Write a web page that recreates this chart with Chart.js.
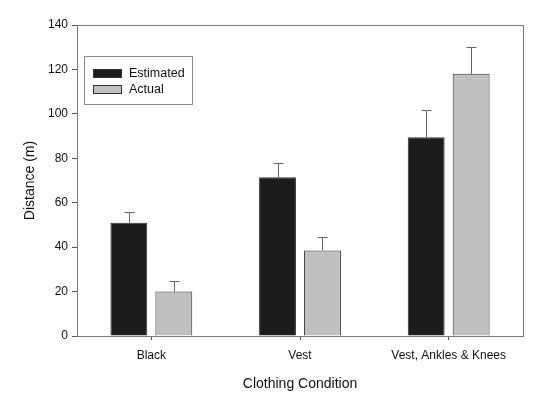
<!DOCTYPE html>
<html>
<head>
<meta charset="utf-8">
<script src="https://cdn.jsdelivr.net/npm/chart.js@4"></script>
<style>
  body { margin: 0; background: #fff; }
  #wrap { width: 540px; height: 397px; }
</style>
</head>
<body>
<div id="wrap"><canvas id="chart" width="540" height="397"></canvas></div>
<script>
const categories = ["Black", "Vest", "Vest, Ankles & Knees"];
const estimated = [51, 71.5, 89.5];
const estimatedErr = [4.8, 6.3, 12.3];
const actual = [20, 38.5, 118];
const actualErr = [4.9, 6.2, 12.3];
const yTicks = [0, 20, 40, 60, 80, 100, 120, 140];

const errors = [estimatedErr, actualErr];
const FONT = "'Liberation Sans', Arial, sans-serif";

// frame around plot area
const framePlugin = {
  id: "frame",
  afterDraw(chart) {
    const { ctx, chartArea: a } = chart;
    ctx.save();
    ctx.strokeStyle = "#7a7a7a";
    ctx.lineWidth = 1;
    ctx.strokeRect(a.left + 0.5, a.top + 0.5, a.right - a.left, a.bottom - a.top);
    ctx.restore();
  }
};

// upper error bars
const errorBarPlugin = {
  id: "errorBars",
  afterDatasetsDraw(chart) {
    const { ctx } = chart;
    const y = chart.scales.y;
    ctx.save();
    ctx.strokeStyle = "#666";
    ctx.lineWidth = 1;
    chart.data.datasets.forEach((ds, i) => {
      chart.getDatasetMeta(i).data.forEach((bar, j) => {
        const top = y.getPixelForValue(ds.data[j] + errors[i][j]);
        const x = Math.round(bar.x) + 0.5;
        ctx.beginPath();
        ctx.moveTo(x, bar.y);
        ctx.lineTo(x, Math.round(top) + 0.5);
        ctx.moveTo(x - 5, Math.round(top) + 0.5);
        ctx.lineTo(x + 5, Math.round(top) + 0.5);
        ctx.stroke();
      });
    });
    ctx.restore();
  }
};

// legend box inside the plot
const legendBoxPlugin = {
  id: "legendBox",
  afterDraw(chart) {
    const { ctx, chartArea: a } = chart;
    const x0 = a.left + 7, y0 = a.top + 31;
    ctx.save();
    ctx.strokeStyle = "#888";
    ctx.lineWidth = 1;
    ctx.strokeRect(x0 + 0.5, y0 + 0.5, 108, 48);
    ctx.font = "12.5px " + FONT;
    ctx.textBaseline = "middle";
    chart.data.datasets.forEach((ds, i) => {
      const yy = y0 + 17 + i * 16;
      ctx.fillStyle = ds.backgroundColor;
      ctx.strokeStyle = "#333";
      ctx.fillRect(x0 + 9, yy - 4, 29, 9);
      ctx.strokeRect(x0 + 9.5, yy - 3.5, 28, 8);
      ctx.fillStyle = "#111";
      ctx.fillText(ds.label, x0 + 45, yy + 1);
    });
    ctx.restore();
  }
};

new Chart(document.getElementById("chart"), {
  type: "bar",
  data: {
    labels: categories,
    datasets: [
      {
        label: "Estimated",
        data: estimated,
        backgroundColor: "#1c1c1c",
        borderColor: "#333",
        borderWidth: 1,
        categoryPercentage: 0.605,
        barPercentage: 0.82
      },
      {
        label: "Actual",
        data: actual,
        backgroundColor: "#c0c0c0",
        borderColor: "#333",
        borderWidth: 1,
        categoryPercentage: 0.605,
        barPercentage: 0.82
      }
    ]
  },
  options: {
    responsive: false,
    animation: false,
    layout: { padding: { top: 25, right: 17, left: 22, bottom: 0 } },
    plugins: {
      legend: { display: false },
      tooltip: { enabled: false }
    },
    scales: {
      x: {
        offset: true,
        grid: { offset: false, drawOnChartArea: false, tickLength: 4, color: "#555" },
        border: { color: "#7a7a7a" },
        ticks: {
          color: "#111",
          font: { family: FONT, size: 12 },
          padding: 8,
          maxRotation: 0
        },
        title: {
          display: true,
          text: "Clothing Condition",
          color: "#111",
          font: { family: FONT, size: 14 },
          padding: { top: 8 }
        },
        afterFit(scale) { scale.height = 61; }
      },
      y: {
        min: 0,
        max: 140,
        afterBuildTicks(scale) { scale.ticks = yTicks.map(v => ({ value: v })); },
        grid: { drawOnChartArea: false, tickLength: 5, color: "#555" },
        border: { color: "#7a7a7a" },
        ticks: {
          color: "#111",
          font: { family: FONT, size: 12 },
          padding: 4
        },
        title: {
          display: true,
          text: "Distance (m)",
          color: "#111",
          font: { family: FONT, size: 14 },
          padding: 0
        },
        afterFit(scale) { scale.width = 55; }
      }
    }
  },
  plugins: [framePlugin, errorBarPlugin, legendBoxPlugin]
});
</script>
</body>
</html>
